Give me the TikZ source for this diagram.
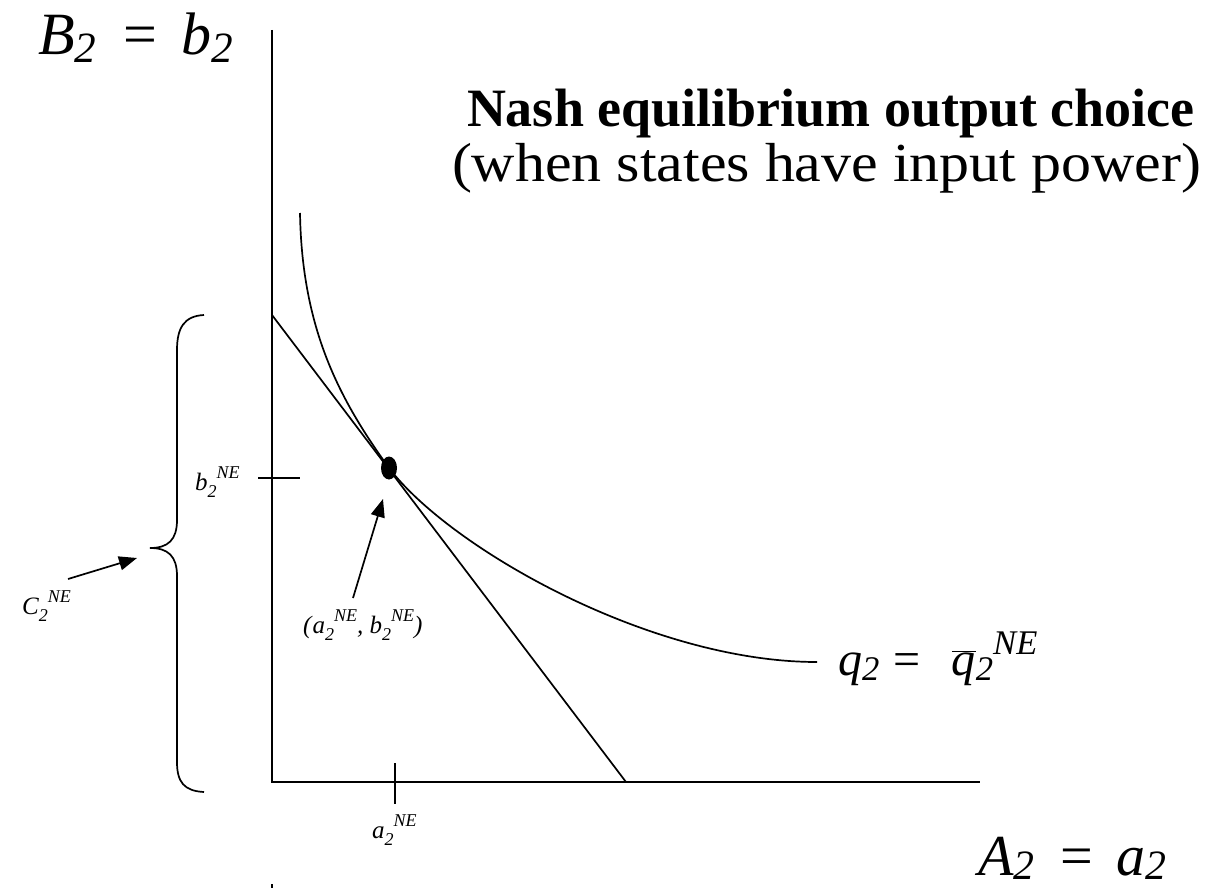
\documentclass[tikz,border=0pt]{standalone}
\usepackage{fontspec}
\setmainfont{Liberation Serif}
\usepackage{graphicx}
\usetikzlibrary{arrows.meta,shapes.geometric}
\newcommand{\SubSup}[3]{\textit{#1}\raisebox{-0.28em}{\scalebox{0.72}{\textit{#2}}}\raisebox{0.48em}{\scalebox{0.72}{\textit{#3}}}}
\newcommand{\BigSub}[1]{\textit{#1}\raisebox{-0.12em}{\scalebox{0.72}{\textit{2}}}}
\newcommand{\LowSub}[1]{\textit{#1}\raisebox{-0.08em}{\scalebox{0.72}{\textit{2}}}}
\newcommand{\Eq}{\hspace{0.45em}=\hspace{0.4em}}
\begin{document}
\begin{tikzpicture}[x=1pt,y=-1pt,
  ax/.style={line width=1.7pt, line cap=butt},
  arr/.style={line width=1.7pt, -{Triangle[length=18pt,width=14pt]}},
  lbl/.style={anchor=base west, inner sep=0pt, outer sep=0pt},
  small/.style={lbl, font=\fontsize{25}{27}\selectfont}]
\useasboundingbox (0,0) rectangle (1209,888);
% axes
\coordinate (O) at (272,782);
\coordinate (ytop) at (272,30);
\coordinate (xend) at (980,782);
\draw[ax] (ytop) -- (O) -- (xend);
\coordinate (mk1) at (272,884);
\coordinate (mk2) at (272,888);
\draw[line width=1.5pt] (mk1) -- (mk2);
% ticks
\coordinate (tb1) at (258,478);
\coordinate (tb2) at (300,478);
\draw[ax] (tb1) -- (tb2);
\coordinate (ta1) at (395,763);
\coordinate (ta2) at (395,804);
\draw[ax] (ta1) -- (ta2);
% budget line
\coordinate (lineA) at (272,315);
\coordinate (lineB) at (626,782);
\draw[ax] (lineA) -- (lineB);
% isoquant
\coordinate (cS) at (300,213);
\coordinate (cT) at (389,468);
\coordinate (cE) at (817,662);
\draw[ax] (cS) .. controls (302,330) and (340,400) .. (cT) .. controls (450,548) and (650,662) .. (cE);
% dot
\node[ellipse, fill=black, inner sep=0pt, minimum width=16pt, minimum height=23pt] (dot) at (389,468) {};
% brace
\coordinate (brT) at (204,315);
\coordinate (brM) at (150,548);
\coordinate (brB) at (204,792);
\draw[ax] (brT) .. controls (184,316) and (177,328) .. (177,350) -- (177,520) .. controls (177,540) and (168,548) .. (brM) .. controls (168,548) and (177,556) .. (177,576) -- (177,762) .. controls (177,782) and (184,791) .. (brB);
% labels
\node[lbl, font=\fontsize{60}{62}\selectfont] (Blab) at (38,55) {\BigSub{B}\Eq\BigSub{b}};
\node[lbl, font=\fontsize{58}{60}\selectfont] (Alab) at (978,875) {\LowSub{A}\Eq\LowSub{a}};
\node[lbl, font=\fontsize{54}{56}\selectfont\bfseries] (title1) at (467,126) {Nash equilibrium output choice};
\node[lbl, font=\fontsize{55}{57}\selectfont] (title2) at (452,181) {\scalebox{1.09}[1]{(when states have input power)}};
\node[lbl, font=\fontsize{48}{50}\selectfont] (qlab) at (838,675) {\BigSub{q}\hspace{0.3em}=\hspace{0.65em}\ensuremath{\overline{\mbox{\textit{q}}}}\raisebox{-0.12em}{\scalebox{0.72}{\textit{2}}}\raisebox{0.42em}{\scalebox{0.72}{\textit{NE}}}};
\node[small] (blab) at (195,490) {\SubSup{b}{2}{NE}};
\node[small] (alab) at (372,838) {\SubSup{a}{2}{NE}};
\node[small] (clab) at (22,614) {\SubSup{C}{2}{NE}};
\node[small] (plab) at (303,633) {\textit{(}\SubSup{a}{2}{NE}\textit{, }\SubSup{b}{2}{NE}\textit{)}};
% arrows
\coordinate (ctail) at (68,579);
\coordinate (ctip) at (137,558);
\draw[arr] (ctail) -- (ctip);
\coordinate (ptail) at (353,598);
\coordinate (ptip) at (383,499);
\draw[arr] (ptail) -- (ptip);
\end{tikzpicture}
\end{document}
